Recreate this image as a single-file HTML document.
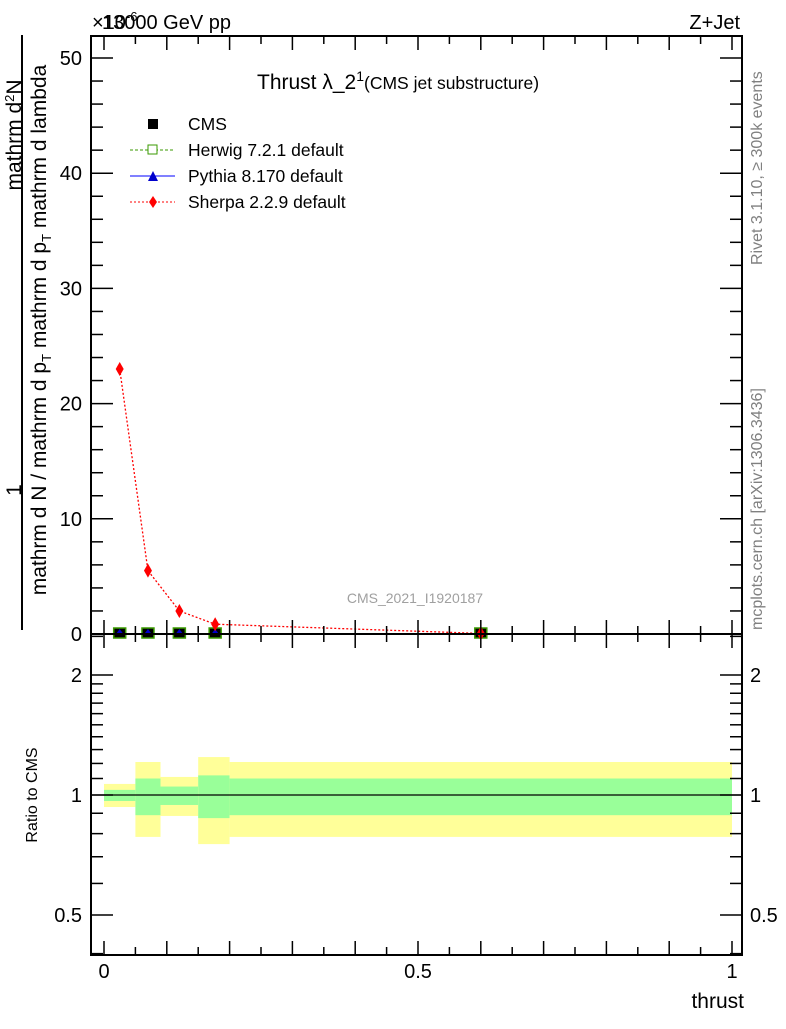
<!DOCTYPE html>
<html><head><meta charset="utf-8"><style>
body{margin:0;background:#fff;font-family:"Liberation Sans",sans-serif}
svg text{font-family:"Liberation Sans",sans-serif}
</style></head><body>
<svg id="chart" width="786" height="1024" viewBox="0 0 786 1024" xmlns="http://www.w3.org/2000/svg">
<g id="bands"></g>
<g id="marks"></g>
<g id="axes"></g>
<rect x="91" y="36" width="651" height="598" fill="none" stroke="#000" stroke-width="2"/>
<rect x="91" y="634" width="651" height="321" fill="none" stroke="#000" stroke-width="2"/>
<text x="92" y="29" font-size="20">×10<tspan font-size="13" dy="-8">-6</tspan></text>
<text x="102" y="29" font-size="20">13000 GeV pp</text>
<text x="740" y="29" font-size="20" text-anchor="end">Z+Jet</text>
<text x="257" y="89" font-size="21">Thrust λ_2<tspan font-size="14" dy="-8">1</tspan><tspan font-size="17.5" dy="8">(CMS jet substructure)</tspan></text>
<text x="415" y="603" font-size="14" fill="#a0a0a0" text-anchor="middle">CMS_2021_I1920187</text>
<g font-size="21">
<text transform="translate(21,490) rotate(-90)" text-anchor="middle">1</text>
<line x1="22" y1="35" x2="22" y2="630" stroke="#000" stroke-width="2"/>
<text transform="translate(21,135) rotate(-90)" text-anchor="middle">mathrm d<tspan font-size="13" dy="-7">2</tspan><tspan dy="7">N</tspan></text>
<text transform="translate(46,330) rotate(-90)" text-anchor="middle">mathrm d N / mathrm d p<tspan font-size="13" dy="5">T</tspan><tspan dy="-5"> mathrm d p</tspan><tspan font-size="13" dy="5">T</tspan><tspan dy="-5"> mathrm d lambda</tspan></text>
</g>
<text transform="translate(37,795) rotate(-90)" font-size="16" text-anchor="middle">Ratio to CMS</text>
<text x="744" y="1008" font-size="21" text-anchor="end">thrust</text>
<text transform="translate(762,265) rotate(-90)" font-size="16" fill="#808080">Rivet 3.1.10, ≥ 300k events</text>
<text transform="translate(762,630) rotate(-90)" font-size="16" fill="#808080">mcplots.cern.ch [arXiv:1306.3436]</text>
<g font-size="17.5">
<g><rect x="148" y="119" width="10" height="10" fill="#000"/><text x="188" y="130">CMS</text></g>
<g><line x1="130" y1="150" x2="175" y2="150" stroke="#3a9a00" stroke-dasharray="3,2"/><rect x="148" y="145" width="9" height="9" fill="#fff" stroke="#3a9a00"/><text x="188" y="156">Herwig 7.2.1 default</text></g>
<g><line x1="130" y1="176" x2="175" y2="176" stroke="#0000ff"/><polygon points="148,181 158,181 153,171" fill="#0000cc"/><text x="188" y="182">Pythia 8.170 default</text></g>
<g><line x1="130" y1="202" x2="175" y2="202" stroke="#ff0000" stroke-dasharray="2,2"/><polygon points="153,196 157,202 153,208 149,202" fill="#ff0000"/><text x="188" y="208">Sherpa 2.2.9 default</text></g>
</g>
</svg>
<script>
const binEdges=[0,0.05,0.09,0.15,0.2,1.0];
const binCenters=[0.025,0.07,0.12,0.177,0.6];
const cmsValues=[0,0,0,0,0];
const herwigValues=[0,0,0,0,0];
const pythiaValues=[0,0,0,0,0];
const sherpaValues=[23.0,5.5,2.0,0.85,0.05];
const statUp=[1.03,1.10,1.05,1.12,1.10];
const statDn=[0.966,0.89,0.944,0.875,0.89];
const totUp=[1.066,1.21,1.11,1.245,1.21];
const totDn=[0.933,0.785,0.886,0.753,0.785];
const mainTicks=[0,10,20,30,40,50];
const ratioTicks=[0.5,1,2];
const xTicks=[0,0.5,1];
const NS='http://www.w3.org/2000/svg';
const X=v=>104+v*628;
const Y=v=>634-v*11.52;
const R=v=>795-Math.log2(v)*120;
function mk(tag,attrs,parent){const e=document.createElementNS(NS,tag);for(const k in attrs)e.setAttribute(k,attrs[k]);document.getElementById(parent).appendChild(e);return e;}
for(let i=0;i<binCenters.length;i++){
const a=mk('rect',{x:X(binEdges[i]),y:R(totUp[i]),width:X(binEdges[i+1])-X(binEdges[i]),height:R(totDn[i])-R(totUp[i]),fill:'#ffff99'},'bands');


const b=mk('rect',{x:X(binEdges[i]),y:R(statUp[i]),width:X(binEdges[i+1])-X(binEdges[i]),height:R(statDn[i])-R(statUp[i]),fill:'#99ff99'},'bands');


}
const ul=mk('line',{x1:91,x2:742,y1:R(1),y2:R(1),stroke:'#000','stroke-width':1.2},'bands');


const sp=mk('polyline',{points:binCenters.map((c,i)=>X(c)+','+Y(sherpaValues[i])).join(' '),fill:'none',stroke:'#ff0000','stroke-width':1.3,'stroke-dasharray':'2,2'},'marks');


for(let i=0;i<binCenters.length;i++){
const x=X(binCenters[i]);
const h=mk('rect',{x:x-6,y:Y(herwigValues[i])-6,width:12,height:10,fill:'#000',stroke:'#3a9a00','stroke-width':1.5},'marks');


const p=mk('polygon',{points:`${x-3},${Y(pythiaValues[i])-1} ${x+3},${Y(pythiaValues[i])-1} ${x},${Y(pythiaValues[i])-5}`,fill:'#0000cc'},'marks');


const y=Y(sherpaValues[i]);
const s=mk('polygon',{points:`${x},${y-7} ${x+4},${y} ${x},${y+7} ${x-4},${y}`,fill:'#ff0000'},'marks');


}
for(let v=0;v<=1.0001;v+=0.05){
const big=Math.abs(v*10-Math.round(v*10))<1e-6;
[[634,-1],[36,1],[955,-1],[634,1]].forEach(([y0,d])=>{
const t=mk('line',{x1:X(v),x2:X(v),y1:y0,y2:y0+d*(big?14:8),stroke:'#000','stroke-width':1.5},'axes');


});
}
xTicks.forEach(v=>{const t=mk('text',{x:X(v),y:978,'font-size':20,'text-anchor':'middle'},'axes');t.textContent=String(v);

});
for(let v=0;v<=51;v+=2){
const big=v%10===0;
[[91,1],[742,-1]].forEach(([x0,d])=>{
const t=mk('line',{x1:x0,x2:x0+d*(big?22:12),y1:Y(v),y2:Y(v),stroke:'#000','stroke-width':1.5},'axes');


});
}
mainTicks.forEach(v=>{const t=mk('text',{x:82,y:Y(v)+7,'font-size':20,'text-anchor':'end'},'axes');t.textContent=String(v);

});
[0.4,0.5,0.6,0.7,0.8,0.9,1,1.1,1.2,1.3,1.4,1.5,1.6,1.7,1.8,1.9,2,2.5].forEach(v=>{
if(R(v)<634||R(v)>955)return;
const big=ratioTicks.includes(v);
[[91,1],[742,-1]].forEach(([x0,d])=>{
const t=mk('line',{x1:x0,x2:x0+d*(big?22:12),y1:R(v),y2:R(v),stroke:'#000','stroke-width':1.5},'axes');


});
});
ratioTicks.forEach(v=>{[[82,'end'],[750,'start']].forEach(([x,a])=>{const t=mk('text',{x:x,y:R(v)+7,'font-size':20,'text-anchor':a},'axes');t.textContent=String(v);

});});
</script>
</body></html>
